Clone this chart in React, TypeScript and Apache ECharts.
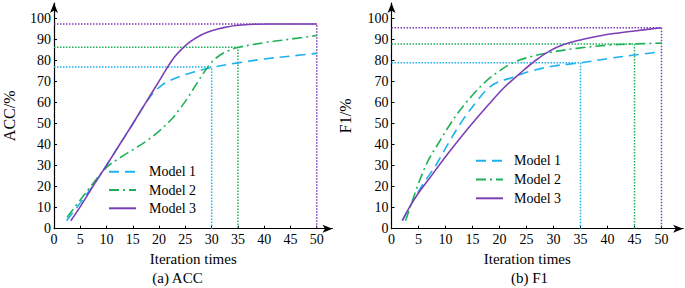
import React, { useEffect, useRef } from "react";
import * as echarts from "echarts";

// ---------- data ----------
const modelNames = ["Model 1", "Model 2", "Model 3"];
const modelColors = ["#1cb2ee", "#1fb158", "#7c3fb6"];

// (a) ACC
const accM1X = [2.4, 5, 7.5, 10, 12.5, 15, 17.5, 19, 20.5, 22, 24, 26, 28, 30, 35, 40, 45, 50];
const accM1Y = [3.8, 12.3, 20.8, 30.2, 40.1, 50, 60, 65, 68.3, 70.5, 72.6, 74.2, 75.6, 76.8, 79, 80.8, 82.2, 83.5];
const accM2X = [2.5, 5, 7.5, 10, 12.5, 15, 17.5, 20, 22.5, 24, 25.5, 27, 28.5, 30, 31.5, 33, 35, 40, 45, 50];
const accM2Y = [5.5, 13.7, 21.8, 29.2, 33.7, 37.6, 41.6, 46.5, 52.5, 57.3, 62.5, 68.5, 74.3, 79.3, 82.5, 84.6, 86.3, 88.6, 90.3, 92];
const accM3X = [3.2, 5, 7.5, 10, 12.5, 15, 17.5, 20, 21.5, 23, 24.5, 26, 28, 30, 32.5, 35, 38, 41, 45, 50];
const accM3Y = [3.8, 10.5, 20.6, 30.2, 40.1, 50, 60.2, 70.3, 76.5, 82, 86, 89.2, 92.3, 94.3, 95.9, 96.9, 97.4, 97.5, 97.5, 97.5];
const accGuideX = [30, 35, 50];
const accGuideY = [77, 86.4, 97.5];

// (b) F1
const f1M1X = [2, 3.5, 5, 6.5, 8, 10.5, 13, 15.5, 17.9, 19.8, 21.9, 23.8, 26, 30, 35, 40, 45, 50];
const f1M1Y = [3.8, 11, 17.8, 23.8, 29.3, 40.5, 51, 59.7, 66.9, 70, 71.6, 73.4, 75.2, 77.5, 79, 81, 82.7, 84.3];
const f1M2X = [2.6, 3.5, 5, 6.8, 8.7, 10.5, 12.4, 14.9, 17.4, 19.8, 22.3, 25.7, 29.4, 34.3, 40.5, 45, 50];
const f1M2Y = [3.8, 10.5, 21.6, 32.5, 40.7, 48.3, 55.5, 63.3, 70, 74.8, 78.8, 81.9, 84, 85.9, 87.5, 88, 88.4];
const f1M3X = [2, 3.5, 5, 6.8, 10.5, 14.2, 17.9, 21, 23.8, 26.6, 29.4, 32, 34.3, 37.5, 40.5, 45, 50];
const f1M3Y = [3.8, 11, 17, 23.2, 35.9, 47.8, 58.9, 67.6, 74, 80, 84.8, 87.8, 89.5, 91.3, 92.7, 94.2, 95.7];
const f1GuideX = [35, 45, 50];
const f1GuideY = [79, 88, 95.7];

// axes / labels
const xTickStep = 5;
const yTickStep = 10;
const xLabelMax = 50;
const yLabelMax = 100;
const xAxisName = "Iteration times";
const yAxisNames = ["ACC/%", "F1/%"];
const panelTitles = ["(a) ACC", "(b) F1"];

// ---------- helpers ----------
const FONT = "Liberation Serif";
const zip = (xs: number[], ys: number[]) => xs.map((x, i) => [x, ys[i]]);
const dashTypes: any[] = [[10, 6], [10, 4, 2, 4], "solid"];

function modelSeries(idx: number, xs: number[], ys: number[], gridIdx: number) {
  return {
    type: "line",
    name: modelNames[idx],
    xAxisIndex: gridIdx,
    yAxisIndex: gridIdx,
    data: zip(xs, ys),
    smooth: 0.35,
    symbol: "none",
    z: 3,
    lineStyle: { color: modelColors[idx], width: 1.6, type: dashTypes[idx] },
    itemStyle: { color: modelColors[idx] },
  };
}

function guideSeries(idx: number, gx: number, gy: number, gridIdx: number) {
  return {
    type: "line",
    name: "guide-" + gridIdx + "-" + idx,
    xAxisIndex: gridIdx,
    yAxisIndex: gridIdx,
    data: [[0, gy], [gx, gy], [gx, 0]],
    symbol: "none",
    silent: true,
    z: 2,
    lineStyle: { color: modelColors[idx], width: 1.5, type: [1.5, 1.5] },
  };
}

function xAxis(gridIdx: number, max: number, namePad: number) {
  return {
    type: "value",
    gridIndex: gridIdx,
    min: 0,
    max,
    interval: xTickStep,
    name: xAxisName,
    nameLocation: "middle",
    nameGap: 23,
    nameTextStyle: { fontFamily: FONT, fontSize: 15, color: "#000", padding: [0, namePad, 0, 0] },
    axisLine: {
      show: true,
      onZero: false,
      symbol: ["none", "arrow"],
      symbolSize: [6, 10],
      lineStyle: { color: "#000", width: 1.2 },
    },
    axisTick: { show: true, inside: true, length: 3, lineStyle: { color: "#000" } },
    axisLabel: {
      fontFamily: FONT,
      fontSize: 14,
      color: "#000",
      margin: 4,
      showMaxLabel: false,
      formatter: (v: number) => (v <= xLabelMax ? String(v) : ""),
    },
    splitLine: { show: false },
  };
}

function yAxis(gridIdx: number, nameGap: number) {
  return {
    type: "value",
    gridIndex: gridIdx,
    min: 0,
    max: 107.5,
    interval: yTickStep,
    name: yAxisNames[gridIdx],
    nameLocation: "middle",
    nameGap,
    nameTextStyle: { fontFamily: FONT, fontSize: 16, color: "#000" },
    axisLine: {
      show: true,
      onZero: false,
      symbol: ["none", "arrow"],
      symbolSize: [6, 10],
      lineStyle: { color: "#000", width: 1.2 },
    },
    axisTick: { show: true, inside: true, length: 3, lineStyle: { color: "#000" } },
    axisLabel: {
      fontFamily: FONT,
      fontSize: 14,
      color: "#000",
      margin: 3,
      showMaxLabel: false,
      formatter: (v: number) => (v <= yLabelMax ? String(v) : ""),
    },
    splitLine: { show: false },
  };
}

function legend(left: number, top: number, gap: number, textPad: number) {
  return {
    data: modelNames,
    orient: "vertical",
    left,
    top,
    padding: 0,
    itemWidth: 27,
    itemHeight: 14,
    itemGap: gap,
    selectedMode: false,
    itemStyle: { opacity: 0 },
    textStyle: { fontFamily: FONT, fontSize: 14, color: "#000", padding: [0, 0, 0, textPad] },
  };
}

export default function App() {
  const ref = useRef<HTMLDivElement>(null);
  useEffect(() => {
    if (!ref.current) return;
    const chart = echarts.init(ref.current, undefined, { renderer: "svg" });
    const accSets = [[accM1X, accM1Y], [accM2X, accM2Y], [accM3X, accM3Y]];
    const f1Sets = [[f1M1X, f1M1Y], [f1M2X, f1M2Y], [f1M3X, f1M3Y]];
    const series: any[] = [];
    accGuideX.forEach((gx, i) => series.push(guideSeries(i, gx, accGuideY[i], 0)));
    f1GuideX.forEach((gx, i) => series.push(guideSeries(i, gx, f1GuideY[i], 1)));
    accSets.forEach((s, i) => series.push(modelSeries(i, s[0], s[1], 0)));
    f1Sets.forEach((s, i) => series.push(modelSeries(i, s[0], s[1], 1)));

    chart.setOption({
      animation: false,
      backgroundColor: "#fff",
      textStyle: { fontFamily: FONT },
      grid: [
        { left: 46.3, top: 3, width: 286.2, height: 225.7 },
        { left: 391.5, top: 3, width: 291.6, height: 225.7 },
      ],
      xAxis: [xAxis(0, 53, 0), xAxis(1, 54, 20)],
      yAxis: [yAxis(0, 37), yAxis(1, 38)],
      legend: [legend(108, 164.7, 4.3, 8), legend(475, 153.7, 4.8, 6)],
      graphic: [
        {
          type: "text",
          x: 177.5,
          y: 278,
          style: { text: panelTitles[0], font: "15px " + FONT, fill: "#000", textAlign: "center", textVerticalAlign: "middle" },
        },
        {
          type: "text",
          x: 529.5,
          y: 278,
          style: { text: panelTitles[1], font: "15px " + FONT, fill: "#000", textAlign: "center", textVerticalAlign: "middle" },
        },
      ],
      series,
    });
    return () => chart.dispose();
  }, []);
  return (
    <div
      ref={ref}
      style={{ position: "fixed", left: 0, top: 0, width: 685, height: 288, background: "#fff" }}
    />
  );
}
